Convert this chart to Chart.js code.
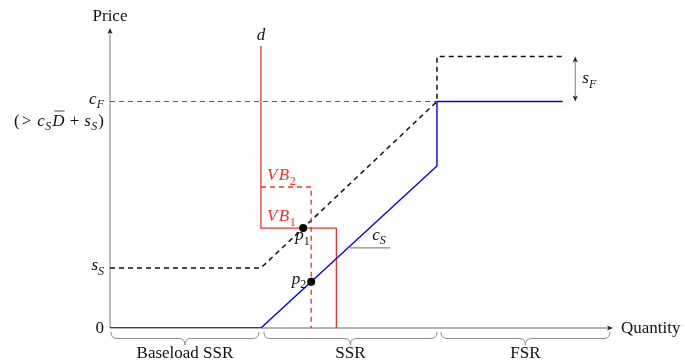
<!DOCTYPE html>
<html>
<head>
<meta charset="utf-8">
<script src="https://cdn.jsdelivr.net/npm/chart.js@4/dist/chart.umd.min.js"></script>
<style>
  html, body { margin: 0; padding: 0; background: #fff; }
  #wrap { width: 685px; height: 362px; }
</style>
</head>
<body>
<div id="wrap"><canvas id="c" width="685" height="362"></canvas></div>
<script>
// Quantity / price coordinates of the curves (abstract units, 0..100 on both axes)
const supplyQ  = [0, 30, 65, 65, 90];          // true cost curve (blue)
const supplyP  = [0, 0, 54, 75.5, 75.5];
const offerQ   = [0, 30, 65, 65, 90];          // offer curve incl. start-up costs (dashed)
const offerP   = [20, 20, 75.5, 90.5, 90.5];
const cFLineQ  = [0, 65];                      // c_F reference line
const cFLineP  = [75.5, 75.5];
const demandQ  = [30, 30, 45, 45];             // demand d with VB1 step
const demandP  = [94, 33.3, 33.3, 0];
const demand2Q = [30, 40, 40];                 // alternative VB2 step (dashed)
const demand2P = [47, 47, 0];
const priceQ   = [38.4, 40];                   // clearing points p1, p2
const priceP   = [33.3, 15.4];
const leaderQ  = [47.7, 55.7];                 // c_S label leader
const leaderP  = [26.7, 26.7];

const yTickValues = [0, 20, 75.5];
const sFArrowQ = 92.5;
const sFFrom = 75.5, sFTo = 90.5;

const braceStart  = [0.2, 30.6, 65.8];
const braceEnd    = [29.6, 65.0, 99.4];
const braceLabels = ['Baseload SSR', 'SSR', 'FSR'];

const pts = (xs, ys) => xs.map((x, i) => ({ x, y: ys[i] }));

const RED = 'rgb(236,52,44)';
const BLUE = '#0000ff';
const AXIS = '#9a9a9a';
const SERIF = '"Liberation Serif", "DejaVu Serif", serif';
const MAIN = 17, SUB = 12;

function fontFor(p) {
  const size = p.sub ? SUB : MAIN;
  return (p.it ? 'italic ' : '') + size + 'px ' + SERIF;
}
function mathWidth(ctx, parts) {
  let w = 0;
  for (const p of parts) { ctx.font = fontFor(p); w += ctx.measureText(p.t).width + (p.pad || 0); }
  return w;
}
function drawMath(ctx, parts, x, y, align, color) {
  const w = mathWidth(ctx, parts);
  let cx = align === 'right' ? x - w : align === 'center' ? x - w / 2 : x;
  ctx.fillStyle = color || '#111';
  ctx.textBaseline = 'alphabetic';
  ctx.textAlign = 'left';
  for (const p of parts) {
    ctx.font = fontFor(p);
    const pw = ctx.measureText(p.t).width;
    ctx.fillText(p.t, cx, y + (p.sub ? 4.5 : 0));
    if (p.over) {
      ctx.save();
      ctx.strokeStyle = color || '#111';
      ctx.lineWidth = 0.8;
      ctx.beginPath();
      ctx.moveTo(cx + 2, y - 14.5);
      ctx.lineTo(cx + pw, y - 14.5);
      ctx.stroke();
      ctx.restore();
    }
    cx += pw + (p.pad || 0);
  }
}
function arrowHead(ctx, x, y, dir) {
  ctx.save();
  ctx.fillStyle = '#222';
  ctx.beginPath();
  if (dir === 'right') {
    ctx.moveTo(x, y); ctx.lineTo(x - 6, y - 2.6); ctx.lineTo(x - 4.5, y); ctx.lineTo(x - 6, y + 2.6);
  } else if (dir === 'up') {
    ctx.moveTo(x, y); ctx.lineTo(x - 2.6, y + 6); ctx.lineTo(x, y + 4.5); ctx.lineTo(x + 2.6, y + 6);
  } else {
    ctx.moveTo(x, y); ctx.lineTo(x - 2.6, y - 6); ctx.lineTo(x, y - 4.5); ctx.lineTo(x + 2.6, y - 6);
  }
  ctx.closePath();
  ctx.fill();
  ctx.restore();
}
function brace(ctx, x1, x2, y, a) {
  const xm = (x1 + x2) / 2, h = a / 2, r = 6;
  ctx.beginPath();
  ctx.moveTo(x1, y);
  ctx.quadraticCurveTo(x1, y + h, x1 + r, y + h);
  ctx.lineTo(xm - r, y + h);
  ctx.quadraticCurveTo(xm, y + h, xm, y + a);
  ctx.quadraticCurveTo(xm, y + h, xm + r, y + h);
  ctx.lineTo(x2 - r, y + h);
  ctx.quadraticCurveTo(x2, y + h, x2, y);
  ctx.stroke();
}

const annotations = {
  id: 'annotations',
  beforeDatasetsDraw(chart) {
    const { ctx, scales: { x, y } } = chart;
    const x0 = x.getPixelForValue(0), y0 = y.getPixelForValue(0);
    const xEnd = x.getPixelForValue(x.max), yEnd = y.getPixelForValue(y.max);
    ctx.save();
    ctx.strokeStyle = AXIS;
    ctx.lineWidth = 1.3;
    ctx.beginPath();
    ctx.moveTo(x0, y0); ctx.lineTo(xEnd - 3, y0);
    ctx.moveTo(x0, y0); ctx.lineTo(x0, yEnd + 3);
    ctx.stroke();
    arrowHead(ctx, xEnd, y0, 'right');
    arrowHead(ctx, x0, yEnd, 'up');

    // s_F double arrow
    const ax = x.getPixelForValue(sFArrowQ);
    const ya = y.getPixelForValue(sFTo), yb = y.getPixelForValue(sFFrom);
    ctx.beginPath();
    ctx.moveTo(ax, ya + 3); ctx.lineTo(ax, yb - 3);
    ctx.stroke();
    arrowHead(ctx, ax, ya, 'up');
    arrowHead(ctx, ax, yb, 'down');

    // braces under the quantity axis
    ctx.strokeStyle = '#8a8a8a';
    ctx.lineWidth = 1;
    braceStart.forEach((s, i) => {
      brace(ctx, x.getPixelForValue(s), x.getPixelForValue(braceEnd[i]), y0 + 4, 13);
    });
    ctx.restore();
  },
  afterDatasetsDraw(chart) {
    const { ctx, scales: { x, y } } = chart;
    const x0 = x.getPixelForValue(0), y0 = y.getPixelForValue(0);
    ctx.save();
    // axis titles
    ctx.font = MAIN + 'px ' + SERIF;
    ctx.fillStyle = '#111';
    ctx.textAlign = 'center';
    ctx.textBaseline = 'alphabetic';
    ctx.fillText('Price', x0, 21);
    ctx.textAlign = 'left';
    ctx.fillText('Quantity', x.getPixelForValue(x.max) + 8, y0 + 5);

    // price tick labels
    const tx = x0 - 6;
    drawMath(ctx, [{ t: '0' }], tx, y.getPixelForValue(yTickValues[0]) + 5, 'right');
    drawMath(ctx, [{ t: 's', it: true }, { t: 'S', it: true, sub: true }], tx, y.getPixelForValue(yTickValues[1]) + 2, 'right');
    drawMath(ctx, [{ t: 'c', it: true }, { t: 'F', it: true, sub: true }], tx, y.getPixelForValue(yTickValues[2]) + 2, 'right');
    drawMath(ctx, [
      { t: '(', pad: 2 }, { t: '>', pad: 6 }, { t: 'c', it: true, pad: 0.5 }, { t: 'S', it: true, sub: true, pad: 1 },
      { t: 'D', it: true, over: true, pad: 5 }, { t: '+', pad: 5 }, { t: 's', it: true, pad: 0.5 },
      { t: 'S', it: true, sub: true, pad: 1 }, { t: ')' }
    ], tx, y.getPixelForValue(yTickValues[2]) + 24, 'right');

    // curve labels
    drawMath(ctx, [{ t: 'd', it: true }], x.getPixelForValue(demandQ[0]), 40, 'center');
    const vb = (n) => [{ t: 'V', it: true, pad: 1.5 }, { t: 'B', it: true, pad: 0.5 }, { t: n, sub: true }];
    drawMath(ctx, vb('2'), x.getPixelForValue(demand2Q[0]) + 6, y.getPixelForValue(demand2P[0]) - 7, 'left', RED);
    drawMath(ctx, vb('1'), x.getPixelForValue(demandQ[1]) + 6, y.getPixelForValue(demandP[1]) - 7, 'left', RED);
    drawMath(ctx, [{ t: 'p', it: true }, { t: '1', sub: true }], x.getPixelForValue(priceQ[0]) - 8, y.getPixelForValue(priceP[0]) + 12, 'left');
    drawMath(ctx, [{ t: 'p', it: true }, { t: '2', sub: true }], x.getPixelForValue(priceQ[1]) - 5, y.getPixelForValue(priceP[1]) + 2, 'right');
    drawMath(ctx, [{ t: 'c', it: true }, { t: 'S', it: true, sub: true }], x.getPixelForValue(leaderQ[1]) - 18, y.getPixelForValue(leaderP[0]) - 8, 'left');
    drawMath(ctx, [{ t: 's', it: true }, { t: 'F', it: true, sub: true }], x.getPixelForValue(sFArrowQ) + 7, y.getPixelForValue((sFFrom + sFTo) / 2) + 4, 'left');

    // brace labels
    ctx.font = MAIN + 'px ' + SERIF;
    ctx.fillStyle = '#111';
    ctx.textAlign = 'center';
    braceStart.forEach((s, i) => {
      const xm = (x.getPixelForValue(s) + x.getPixelForValue(braceEnd[i])) / 2;
      ctx.fillText(braceLabels[i], xm, y0 + 30);
    });
    ctx.restore();
  }
};

const lineSet = (data, color, width, dash, order) => ({
  data, showLine: true, borderColor: color, borderWidth: width,
  borderDash: dash || [], pointRadius: 0, pointHoverRadius: 0,
  tension: 0, fill: false, order
});

new Chart(document.getElementById('c'), {
  type: 'scatter',
  data: {
    datasets: [
      {
        data: pts(priceQ, priceP), showLine: false,
        pointRadius: 4, pointBackgroundColor: '#000', pointBorderColor: '#000',
        pointBorderWidth: 0, order: 0
      },
      lineSet(pts(supplyQ, supplyP), BLUE, 1.4, null, 1),
      lineSet(pts(demandQ, demandP), RED, 1.3, null, 2),
      lineSet(pts(demand2Q, demand2P), RED, 1.3, [5, 4], 3),
      lineSet(pts(offerQ, offerP), '#111', 1.5, [5, 4], 4),
      lineSet(pts(cFLineQ, cFLineP), '#333', 0.8, [5, 4], 5),
      lineSet(pts(leaderQ, leaderP), '#8a8a8a', 1.2, null, 6)
    ]
  },
  options: {
    responsive: false,
    devicePixelRatio: 1,
    animation: false,
    events: [],
    layout: { padding: { left: 110, right: 72, top: 28, bottom: 34 } },
    plugins: { legend: { display: false }, tooltip: { enabled: false } },
    scales: {
      x: { type: 'linear', min: 0, max: 100, display: false },
      y: { type: 'linear', min: 0, max: 100, display: false }
    }
  },
  plugins: [annotations]
});
</script>
</body>
</html>
